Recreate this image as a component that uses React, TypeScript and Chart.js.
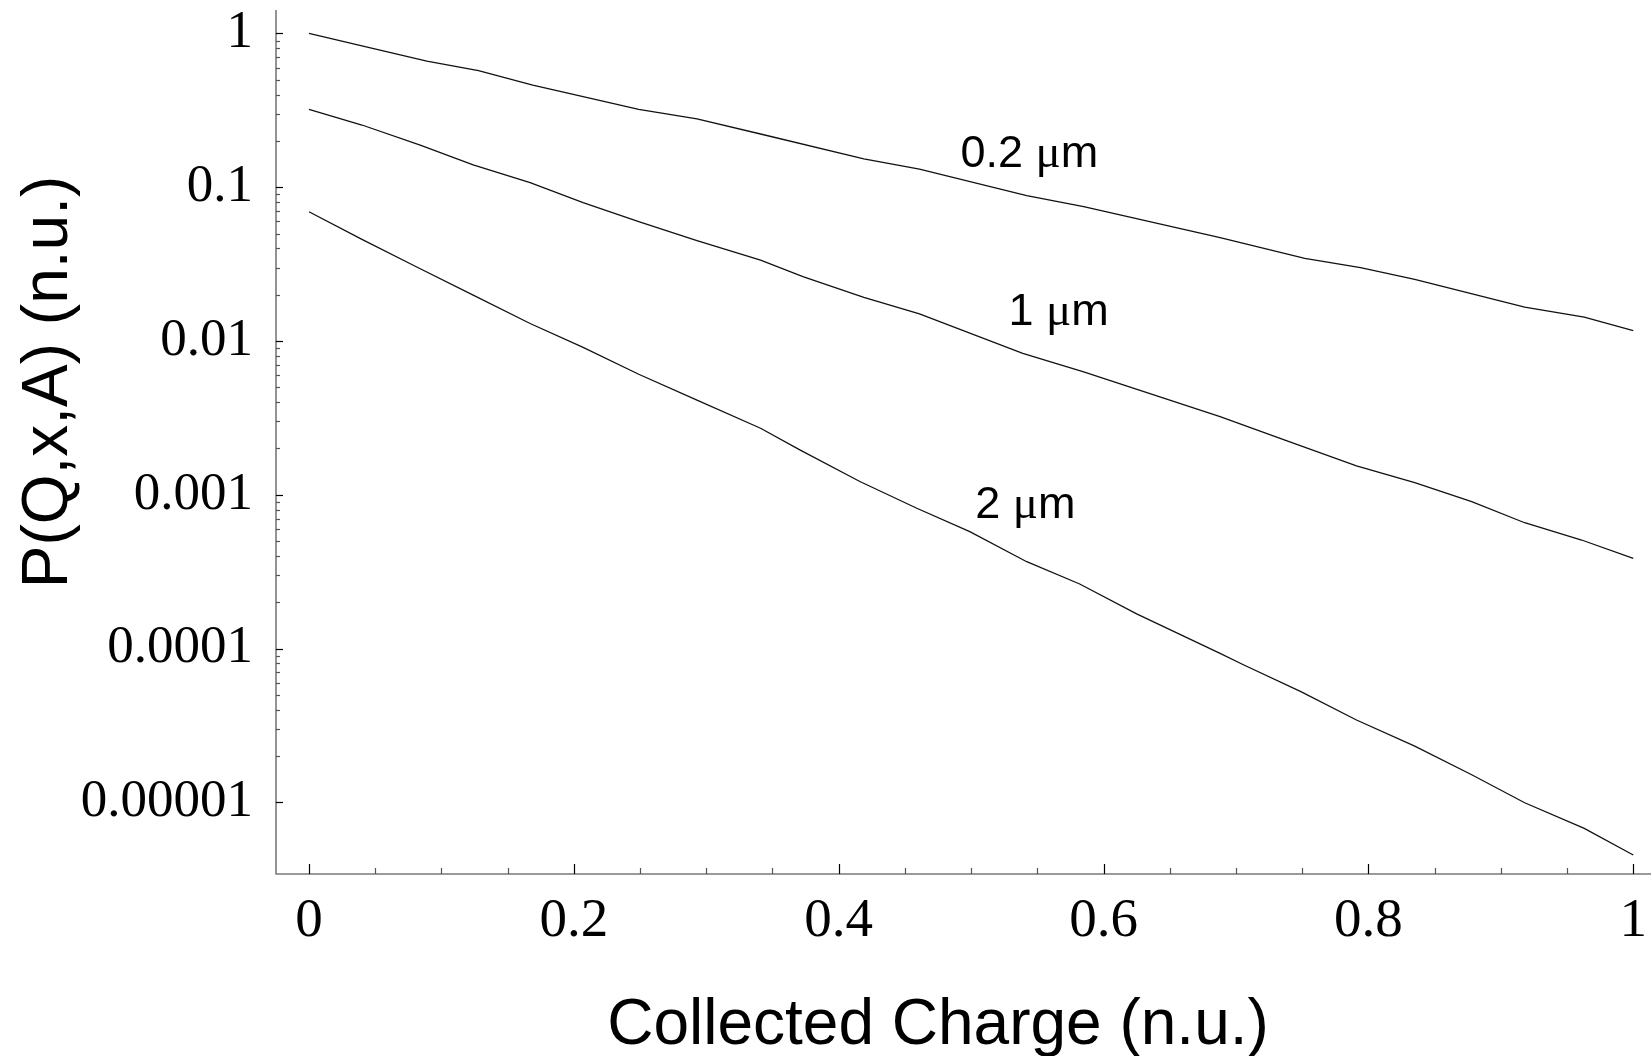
import React, { useEffect, useRef } from "react";
import { Chart, registerables } from "chart.js";

Chart.register(...registerables);

// ---- data ----
const seriesNames = ["0.2 μm", "1 μm", "2 μm"];

const x02 = [0, 0.04, 0.089, 0.128, 0.169, 0.207, 0.249, 0.293, 0.341, 0.419, 0.461, 0.542, 0.585, 0.688, 0.752, 0.794, 0.835, 0.918, 0.963, 1.0];
const y02 = [1.0, 0.83, 0.662, 0.573, 0.462, 0.388, 0.321, 0.278, 0.222, 0.153, 0.131, 0.0881, 0.0748, 0.047, 0.0345, 0.03, 0.0252, 0.0166, 0.0143, 0.0117];

const x1 = [0, 0.04, 0.084, 0.124, 0.167, 0.207, 0.249, 0.293, 0.341, 0.373, 0.419, 0.461, 0.539, 0.585, 0.688, 0.737, 0.791, 0.835, 0.878, 0.918, 0.961, 1.0];
const y1 = [0.321, 0.254, 0.188, 0.14, 0.107, 0.0794, 0.0597, 0.0449, 0.0336, 0.0262, 0.0192, 0.015, 0.00832, 0.00631, 0.00322, 0.00227, 0.00154, 0.0012, 0.000902, 0.000658, 0.000508, 0.000386];

const x2 = [0, 0.04, 0.081, 0.124, 0.167, 0.207, 0.249, 0.293, 0.341, 0.371, 0.416, 0.459, 0.499, 0.542, 0.582, 0.625, 0.688, 0.706, 0.749, 0.791, 0.835, 0.878, 0.918, 0.963, 1.0];
const y2 = [0.0693, 0.0458, 0.0304, 0.0199, 0.013, 0.0091, 0.00608, 0.00413, 0.00271, 0.00195, 0.00122, 0.000817, 0.000576, 0.000367, 0.000263, 0.000168, 0.0000931, 0.0000782, 0.0000524, 0.0000343, 0.0000232, 0.0000151, 0.00000993, 0.00000677, 0.00000454];

// curve labels, anchored in data coordinates (centre x, baseline y)
const labelX = [0.544, 0.566, 0.541];
const labelY = [0.136, 0.0127, 0.000703];

const xTickValues = [0, 0.2, 0.4, 0.6, 0.8, 1];
const xTickLabels = ["0", "0.2", "0.4", "0.6", "0.8", "1"];
const yTickValues = [0.00001, 0.0001, 0.001, 0.01, 0.1, 1];
const yTickLabels = ["0.00001", "0.0001", "0.001", "0.01", "0.1", "1"];

const xAxisTitle = "Collected Charge (n.u.)";
const yAxisTitle = "P(Q,x,A) (n.u.)";

const X_MIN = -0.0249;
const X_MAX = 1.0134;
const Y_MIN = 3.418e-6;
const Y_MAX = 1.4216;

const SERIF = "'Liberation Serif', 'Times New Roman', serif";
const SANS = "'Liberation Sans', Arial, Helvetica, sans-serif";

function pts(xs: number[], ys: number[]) {
  return xs.map((x, i) => ({ x, y: ys[i] }));
}

// draws a label, rendering the Greek mu in a serif face (like the Symbol font of the original)
function drawMixedLabel(ctx: CanvasRenderingContext2D, text: string, cx: number, baseline: number) {
  const parts: { s: string; font: string }[] = [];
  for (const ch of text) {
    const font = ch === "μ" ? `47px ${SERIF}` : `45px ${SANS}`;
    if (parts.length && parts[parts.length - 1].font === font) parts[parts.length - 1].s += ch;
    else parts.push({ s: ch, font });
  }
  let total = 0;
  const widths = parts.map((p) => {
    ctx.font = p.font;
    const w = ctx.measureText(p.s).width;
    total += w;
    return w;
  });
  let x = cx - total / 2;
  ctx.textAlign = "left";
  parts.forEach((p, i) => {
    ctx.font = p.font;
    ctx.fillText(p.s, x, baseline);
    x += widths[i];
  });
}

const decorPlugin = {
  id: "decor",
  afterDatasetsDraw(chart: any) {
    const { ctx, chartArea: a, scales } = chart;
    const xs = scales.x;
    const ys = scales.y;
    ctx.save();

    // axis lines
    ctx.strokeStyle = "#7a7a7a";
    ctx.lineWidth = 1.6;
    ctx.beginPath();
    ctx.moveTo(a.left, a.top);
    ctx.lineTo(a.left, a.bottom);
    ctx.lineTo(a.right, a.bottom);
    ctx.stroke();

    // x ticks (inward)
    for (let i = 0; i <= 20; i++) {
      const v = i * 0.05;
      const major = i % 4 === 0;
      const px = Math.round(xs.getPixelForValue(v)) + 0.5;
      ctx.strokeStyle = major ? "#000" : "#555";
      ctx.lineWidth = 1.2;
      ctx.beginPath();
      ctx.moveTo(px, a.bottom);
      ctx.lineTo(px, a.bottom - (major ? 10 : 6));
      ctx.stroke();
    }

    // y ticks (inward), major at decades, minor at 2..9
    for (let d = -5; d <= 0; d++) {
      const base = Math.pow(10, d);
      const py = Math.round(ys.getPixelForValue(base)) + 0.5;
      ctx.strokeStyle = "#000";
      ctx.lineWidth = 1.2;
      ctx.beginPath();
      ctx.moveTo(a.left, py);
      ctx.lineTo(a.left + 7, py);
      ctx.stroke();
      if (d < 0) {
        for (let k = 2; k <= 9; k++) {
          const pm = Math.round(ys.getPixelForValue(k * base)) + 0.5;
          ctx.strokeStyle = "#555";
          ctx.beginPath();
          ctx.moveTo(a.left, pm);
          ctx.lineTo(a.left + 4, pm);
          ctx.stroke();
        }
      }
    }

    // curve labels
    ctx.fillStyle = "#000";
    ctx.textBaseline = "alphabetic";
    seriesNames.forEach((name, i) => {
      drawMixedLabel(ctx, name, xs.getPixelForValue(labelX[i]), ys.getPixelForValue(labelY[i]));
    });

    // axis titles
    ctx.textAlign = "center";
    ctx.font = `64px ${SANS}`;
    ctx.fillText(xAxisTitle, 938, 1044);
    ctx.save();
    ctx.translate(67, 382);
    ctx.rotate(-Math.PI / 2);
    ctx.font = `64px ${SANS}`;
    ctx.fillText(yAxisTitle, 0, 0);
    ctx.restore();

    ctx.restore();
  },
};

export default function App() {
  const ref = useRef<HTMLCanvasElement | null>(null);

  useEffect(() => {
    if (!ref.current) return;
    const chart = new Chart(ref.current, {
      type: "line",
      data: {
        datasets: [
          { label: seriesNames[0], data: pts(x02, y02) },
          { label: seriesNames[1], data: pts(x1, y1) },
          { label: seriesNames[2], data: pts(x2, y2) },
        ].map((d) => ({
          ...d,
          borderColor: "#111",
          borderWidth: 1.3,
          pointRadius: 0,
          tension: 0,
          fill: false,
        })),
      },
      options: {
        animation: false,
        responsive: false,
        devicePixelRatio: 1,
        layout: { padding: { top: 10, left: 0, right: 0, bottom: 0 } },
        plugins: { legend: { display: false }, tooltip: { enabled: false } },
        scales: {
          x: {
            type: "linear",
            position: "bottom",
            min: X_MIN,
            max: X_MAX,
            grid: { display: false, drawTicks: false },
            border: { display: false },
            title: { display: false },
            ticks: {
              color: "#000",
              font: { family: SERIF, size: 55 },
              padding: 15,
              maxRotation: 0,
              autoSkip: false,
              callback: (value: any) => {
                const i = xTickValues.findIndex((v) => Math.abs(v - Number(value)) < 1e-9);
                return i >= 0 ? xTickLabels[i] : "";
              },
            },
            afterBuildTicks: (s: any) => {
              s.ticks = xTickValues.map((v) => ({ value: v }));
            },
            afterFit: (s: any) => {
              s.height = 182;
              s.paddingLeft = 0;
              s.paddingRight = 0;
            },
          },
          y: {
            type: "logarithmic",
            position: "left",
            min: Y_MIN,
            max: Y_MAX,
            grid: { display: false, drawTicks: false },
            border: { display: false },
            title: { display: false },
            ticks: {
              color: "#000",
              font: { family: SERIF, size: 53 },
              padding: 23,
              autoSkip: false,
              callback: (value: any) => {
                const i = yTickValues.findIndex((v) => Math.abs(v - Number(value)) / v < 1e-6);
                return i >= 0 ? yTickLabels[i] : "";
              },
            },
            afterBuildTicks: (s: any) => {
              s.ticks = yTickValues.map((v) => ({ value: v }));
            },
            afterFit: (s: any) => {
              s.width = 276;
              s.paddingTop = 0;
              s.paddingBottom = 0;
            },
          },
        },
      } as any,
      plugins: [decorPlugin],
    });
    return () => chart.destroy();
  }, []);

  return (
    <div style={{ position: "fixed", left: 0, top: 0, width: 1651, height: 1056, background: "#fff" }}>
      <canvas ref={ref} width={1651} height={1056} style={{ display: "block", width: 1651, height: 1056 }} />
    </div>
  );
}
